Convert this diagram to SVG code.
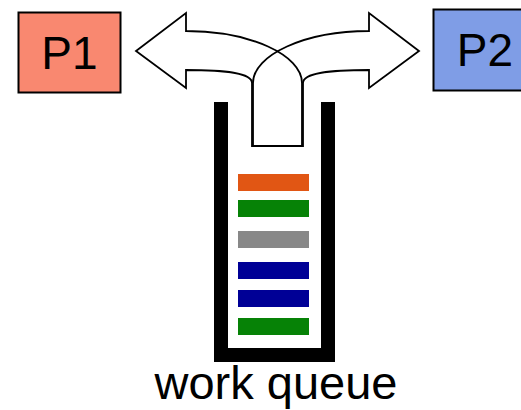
<svg xmlns="http://www.w3.org/2000/svg" width="521" height="410" viewBox="0 0 521 410">
<style>
.box{stroke:#000;stroke-width:2}
.lbl{font-family:"Liberation Sans",Arial,sans-serif;fill:#000}
.arr{fill:#fff;stroke:none}
.arrs{fill:none;stroke:#000;stroke-width:1.8;stroke-linejoin:miter}
.wall{fill:#000}
</style>
<rect width="521" height="410" fill="#fff"/>
<g id="p1">
<rect class="box" x="18.5" y="12.5" width="102" height="80" fill="#f98870"/>
<text class="lbl" x="69.5" y="69" font-size="46" text-anchor="middle">P1</text>
</g>
<g id="p2">
<rect class="box" x="433.5" y="9.5" width="100" height="81" fill="#7f9de6"/>
<text class="lbl" x="485" y="66" font-size="46" text-anchor="middle">P2</text>
</g>
<g id="queue">
<path class="wall" d="M214,102 H228 V348 H321 V102 H335 V362 H214 Z"/>
<rect x="238" y="174" width="71" height="17" fill="#e15614"/>
<rect x="238" y="200" width="71" height="17" fill="#068206"/>
<rect x="238" y="231" width="71" height="17" fill="#888888"/>
<rect x="238" y="262" width="71" height="17" fill="#000096"/>
<rect x="238" y="290" width="71" height="17" fill="#000096"/>
<rect x="238" y="318" width="71" height="17" fill="#068206"/>
<text class="lbl" x="276" y="399" font-size="47" text-anchor="middle">work queue</text>
</g>
<g id="connectors">
<path class="arr" d="M302,146 V83 C302,55 250,31 186,31 V13 L136,51 L186,88 V70 C225,70 252,73 252,83 V146 Z"/>
<path class="arr" d="M253,146 V83 C253,55 305,31 369,31 V13 L419,51 L369,88 V70 C330,70 303,73 303,83 V146 Z"/>
<path class="arrs" d="M302,146 V83 C302,55 250,31 186,31 V13 L136,51 L186,88 V70 C225,70 252,73 252,83 V146 Z"/>
<path class="arrs" d="M253,146 V83 C253,55 305,31 369,31 V13 L419,51 L369,88 V70 C330,70 303,73 303,83 V146 Z"/>
</g>
</svg>
